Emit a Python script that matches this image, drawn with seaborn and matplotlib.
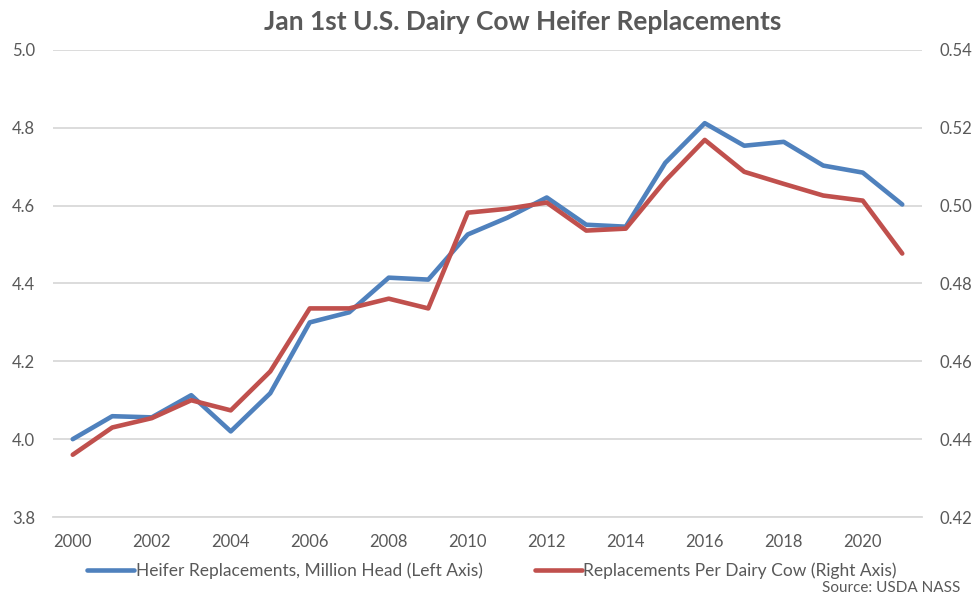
import numpy as np
import pandas as pd
import matplotlib
matplotlib.use('Agg')
import matplotlib.pyplot as plt
import seaborn as sns

# data
years = list(range(2000, 2022))
heifers = [4.000, 4.059, 4.056, 4.113, 4.020, 4.118, 4.300, 4.326, 4.415, 4.410, 4.526,
           4.569, 4.621, 4.551, 4.546, 4.710, 4.812, 4.754, 4.764, 4.703, 4.685, 4.603]
per_cow = [0.4360, 0.4430, 0.4454, 0.4500, 0.4474, 0.4574, 0.4736, 0.4736, 0.4761, 0.4736, 0.4982,
           0.4992, 0.5008, 0.4936, 0.4941, 0.5064, 0.5169, 0.5087, 0.5056, 0.5026, 0.5013, 0.4877]
left_ticks = [3.8, 4.0, 4.2, 4.4, 4.6, 4.8, 5.0]
right_ticks = [0.42, 0.44, 0.46, 0.48, 0.50, 0.52, 0.54]
year_labels = list(range(2000, 2021, 2))

df = pd.DataFrame({'year': years, 'heifers': heifers, 'per_cow': per_cow})

sns.set_style('white')
plt.rcParams['font.family'] = ['Lato', 'DejaVu Sans']

blue = '#4F81BD'
red = '#C0504D'
grey = '#595959'

fig = plt.figure(figsize=(9.76, 6.01), dpi=100)
ax = fig.add_axes([53/976, 1-517/601, (922-53)/976, (517-50)/601])
ax2 = ax.twinx()

sns.lineplot(data=df, x='year', y='heifers', ax=ax, color=blue, linewidth=3.3,
             label='Heifer Replacements, Million Head (Left Axis)', legend=False)
sns.lineplot(data=df, x='year', y='per_cow', ax=ax2, color=red, linewidth=3.3,
             label='Replacements Per Dairy Cow (Right Axis)', legend=False)

ax.set_xlim(1999.5, 2021.5)
ax.set_ylim(3.8, 5.0)
ax2.set_ylim(0.42, 0.54)
ax.set_yticks(left_ticks)
ax.set_yticklabels([f'{v:.1f}' for v in left_ticks])
ax2.set_yticks(right_ticks)
ax2.set_yticklabels([f'{v:.2f}' for v in right_ticks])
ax.set_xticks(year_labels)
ax.set_xticklabels([str(y) for y in year_labels])
ax.set_xticks(np.arange(1999.5, 2022, 2), minor=True)

ax.grid(axis='y', color='#D9D9D9', linewidth=1.3)
ax.set_axisbelow(True)
for a in (ax, ax2):
    for s in ['top', 'left', 'right', 'bottom']:
        a.spines[s].set_visible(False)
    a.set_xlabel('')
    a.set_ylabel('')
ax.spines['bottom'].set_visible(True)
ax.spines['bottom'].set_color('#D9D9D9')
ax.spines['bottom'].set_linewidth(1.3)

ax.tick_params(axis='x', which='major', length=0, pad=12, labelsize=12, labelcolor=grey)
ax.tick_params(axis='x', which='minor', length=5, width=1.3, color='#D9D9D9', direction='out')
ax.tick_params(axis='y', length=0, pad=13, labelsize=12, labelcolor=grey)
ax2.tick_params(axis='y', length=0, pad=12.5, labelsize=12, labelcolor=grey)

fig.text(523/976, 1-22/601, 'Jan 1st U.S. Dairy Cow Heifer Replacements',
         ha='center', va='center', fontsize=19, fontweight='bold', color=grey)

h1, l1 = ax.get_legend_handles_labels()
h2, l2 = ax2.get_legend_handles_labels()
fig.legend(h1 + h2, l1 + l2, loc='center', bbox_to_anchor=(492/976, 1-571/601), ncol=2,
           frameon=False, fontsize=12.5, labelcolor=grey, handlelength=2.7,
           handletextpad=0.1, columnspacing=3.0)

fig.text(960/976, 1-588/601, 'Source: USDA NASS', ha='right', va='center',
         fontsize=11, color=grey)

plt.savefig('out.png', dpi=100)
